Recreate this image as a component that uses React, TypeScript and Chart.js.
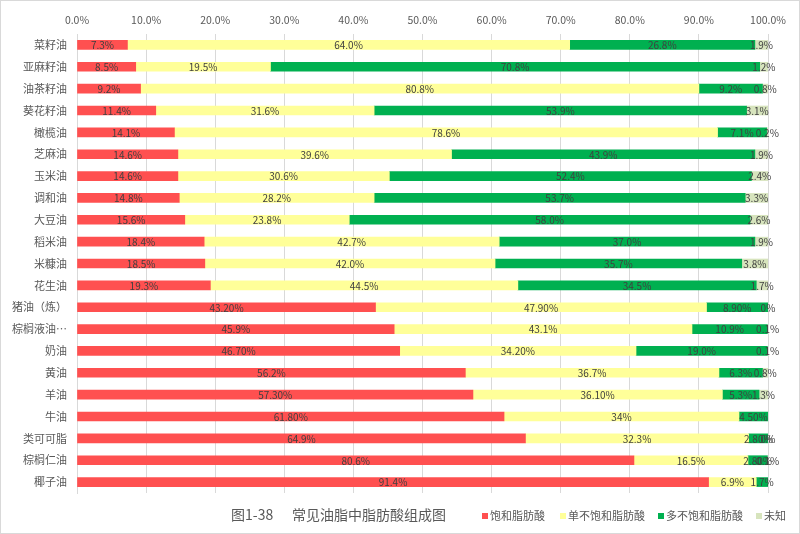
import React, { useEffect, useRef } from "react";
import { Chart, registerables } from "chart.js";

Chart.register(...registerables);

const categories = [
  "菜籽油", "亚麻籽油", "油茶籽油", "葵花籽油", "橄榄油", "芝麻油", "玉米油", "调和油",
  "大豆油", "稻米油", "米糠油", "花生油", "猪油（炼）", "棕榈液油…", "奶油", "黄油",
  "羊油", "牛油", "类可可脂", "棕榈仁油", "椰子油",
];

const saturated = [7.3, 8.5, 9.2, 11.4, 14.1, 14.6, 14.6, 14.8, 15.6, 18.4, 18.5, 19.3, 43.2, 45.9, 46.7, 56.2, 57.3, 61.8, 64.9, 80.6, 91.4];
const saturatedLabels = ["7.3%", "8.5%", "9.2%", "11.4%", "14.1%", "14.6%", "14.6%", "14.8%", "15.6%", "18.4%", "18.5%", "19.3%", "43.20%", "45.9%", "46.70%", "56.2%", "57.30%", "61.80%", "64.9%", "80.6%", "91.4%"];

const mono = [64.0, 19.5, 80.8, 31.6, 78.6, 39.6, 30.6, 28.2, 23.8, 42.7, 42.0, 44.5, 47.9, 43.1, 34.2, 36.7, 36.1, 34, 32.3, 16.5, 6.9];
const monoLabels = ["64.0%", "19.5%", "80.8%", "31.6%", "78.6%", "39.6%", "30.6%", "28.2%", "23.8%", "42.7%", "42.0%", "44.5%", "47.90%", "43.1%", "34.20%", "36.7%", "36.10%", "34%", "32.3%", "16.5%", "6.9%"];

const poly = [26.8, 70.8, 9.2, 53.9, 7.1, 43.9, 52.4, 53.7, 58.0, 37.0, 35.7, 34.5, 8.9, 10.9, 19.0, 6.3, 5.3, 4.5, 2.8, 2.8, 1.7];
const polyLabels = ["26.8%", "70.8%", "9.2%", "53.9%", "7.1%", "43.9%", "52.4%", "53.7%", "58.0%", "37.0%", "35.7%", "34.5%", "8.90%", "10.9%", "19.0%", "6.3%", "5.3%", "4.50%", "2.80%", "2.80%", "1.7%"];

const unknown = [1.9, 1.2, 0.8, 3.1, 0.2, 1.9, 2.4, 3.3, 2.6, 1.9, 3.8, 1.7, 0, 0.1, 0.1, 0.8, 1.3, null, 0, 0.1, null];
const unknownLabels = ["1.9%", "1.2%", "0.8%", "3.1%", "0.2%", "1.9%", "2.4%", "3.3%", "2.6%", "1.9%", "3.8%", "1.7%", "0%", "0.1%", "0.1%", "0.8%", "1.3%", null, "0%", "0.1%", null];

const seriesNames = ["饱和脂肪酸", "单不饱和脂肪酸", "多不饱和脂肪酸", "未知"];
const seriesColors = ["#FF5050", "#FFFF99", "#00B050", "#D7E4BD"];

const xTicks = [0, 10, 20, 30, 40, 50, 60, 70, 80, 90, 100];
const titleNumber = "图1-38";
const titleText = "常见油脂中脂肪酸组成图";

const FONT = '"Noto Sans CJK SC", "Noto Sans", sans-serif';

export default function App() {
  const ref = useRef<HTMLCanvasElement | null>(null);

  useEffect(() => {
    document.body.style.margin = "0";
    const canvas = ref.current;
    if (!canvas) return;

    const labelSets = [saturatedLabels, monoLabels, polyLabels, unknownLabels];

    const dataLabelPlugin = {
      id: "dataLabels",
      afterDatasetsDraw(chart: any) {
        const ctx = chart.ctx;
        ctx.save();
        ctx.font = `10px ${FONT}`;
        ctx.fillStyle = "#404040";
        ctx.textAlign = "center";
        ctx.textBaseline = "middle";
        chart.data.datasets.forEach((ds: any, di: number) => {
          const meta = chart.getDatasetMeta(di);
          meta.data.forEach((bar: any, i: number) => {
            const txt = labelSets[di][i];
            if (txt == null || ds.data[i] == null) return;
            const right = Math.min(bar.x, chart.chartArea.right);
            const left = Math.min(bar.base, chart.chartArea.right);
            ctx.fillText(txt, (left + right) / 2, bar.y + 0.5);
          });
        });
        ctx.restore();
      },
    };

    const bottomPlugin = {
      id: "bottomRow",
      afterDraw(chart: any) {
        const ctx = chart.ctx;
        ctx.save();
        ctx.textBaseline = "middle";
        ctx.textAlign = "left";
        ctx.fillStyle = "#595959";
        ctx.font = `14px ${FONT}`;
        ctx.fillText(titleNumber, 230, 514);
        ctx.fillText(titleText, 291, 514);
        ctx.font = `11px ${FONT}`;
        const xs = [481, 559, 657, 755];
        chart.data.datasets.forEach((ds: any, di: number) => {
          const x = xs[di];
          ctx.fillStyle = ds.backgroundColor;
          ctx.fillRect(x, 512, 6, 6);
          ctx.fillStyle = "#595959";
          ctx.fillText(ds.label, x + 8, 515);
        });
        ctx.restore();
      },
    };

    const chart = new Chart(canvas, {
      type: "bar",
      data: {
        labels: categories,
        datasets: [saturated, mono, poly, unknown].map((d, i) => ({
          label: seriesNames[i],
          data: d as any,
          backgroundColor: seriesColors[i],
          borderWidth: 0,
          barThickness: 9,
        })),
      },
      options: {
        indexAxis: "y",
        responsive: true,
        maintainAspectRatio: false,
        animation: false,
        layout: { padding: { left: 0, right: 31, top: 0, bottom: 40 } },
        plugins: {
          legend: { display: false },
          title: { display: false },
          tooltip: { enabled: false },
        },
        scales: {
          x: {
            position: "top",
            stacked: true,
            min: 0,
            max: 100,
            afterBuildTicks: (s: any) => {
              s.ticks = xTicks.map((v) => ({ value: v }));
            },
            afterFit: (s: any) => {
              s.height = 33;
              s.paddingLeft = 0;
              s.paddingRight = 0;
            },
            ticks: {
              callback: (v: any) => Number(v).toFixed(1) + "%",
              color: "#595959",
              font: { size: 10.5, family: FONT },
              padding: 8,
              maxRotation: 0,
            },
            grid: { color: "#D9D9D9", drawTicks: false },
            border: { display: false },
          },
          y: {
            stacked: true,
            afterFit: (s: any) => {
              s.width = 76;
            },
            ticks: {
              color: "#595959",
              font: { size: 11, family: FONT },
              padding: 10,
            },
            grid: { display: false, drawTicks: false },
            border: { display: true, color: "#D9D9D9" },
          },
        },
      },
      plugins: [dataLabelPlugin, bottomPlugin],
    });

    return () => chart.destroy();
  }, []);

  return (
    <div
      style={{
        position: "fixed",
        left: 0,
        top: 0,
        width: 800,
        height: 534,
        boxSizing: "border-box",
        border: "1px solid #D9D9D9",
        background: "#fff",
      }}
    >
      <div style={{ position: "relative", width: 798, height: 532 }}>
        <canvas ref={ref} />
      </div>
    </div>
  );
}
